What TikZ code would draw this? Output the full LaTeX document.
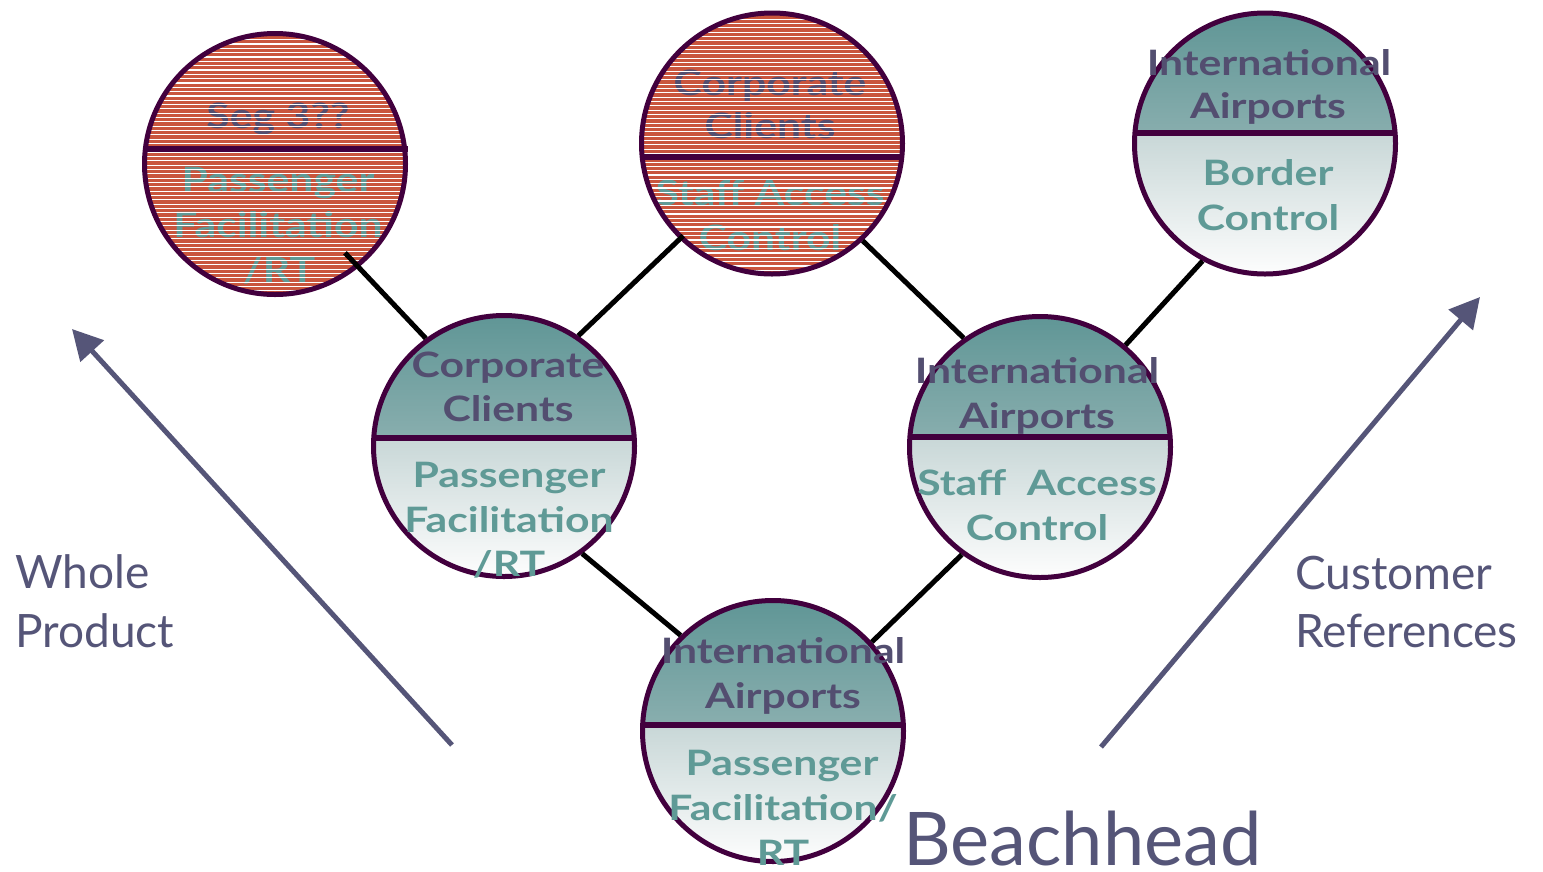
\documentclass[tikz,border=0pt]{standalone}
\usepackage{fontspec}
\setmainfont{Lato}
\usetikzlibrary{calc,arrows.meta}

\definecolor{rimc}{RGB}{66,0,62}
\definecolor{uptext}{RGB}{83,78,112}
\definecolor{lowtext}{RGB}{95,154,150}
\definecolor{slate}{RGB}{85,85,120}
\definecolor{brick}{RGB}{201,85,61}
\definecolor{tealtop}{RGB}{96,150,150}
\definecolor{tealmid}{RGB}{182,201,201}
\definecolor{tealbot}{RGB}{200,215,215}
\definecolor{tealend}{RGB}{253,253,253}

% circle labels are set a little wider than the face draws them
\newcommand\widelab[1]{\scalebox{1.22}[1]{#1}}

\tikzset{
  ball/.style={circle, minimum size=261pt, inner sep=0pt, outer sep=2.5pt},
  rimline/.style={draw=rimc, line width=5pt},
  divider/.style={draw=rimc, line width=6pt},
  tealball/.style={ball, rimline, path picture={
      \fill[top color=tealtop, bottom color=tealmid]
        (path picture bounding box.north west) rectangle ($(path picture bounding box.east)+(0,#1)$);
      \fill[top color=tealbot, bottom color=tealend]
        ($(path picture bounding box.west)+(0,#1)$) rectangle (path picture bounding box.south east);
      \draw[divider] ($(path picture bounding box.west)+(0,#1)$) -- ($(path picture bounding box.east)+(0,#1)$);
    }},
  redball/.style={ball, fill=brick},
  stripe/.style={draw=white, line width=1.1pt},
  uplab/.style={font=\bfseries\fontsize{35}{42}\selectfont, text=uptext, anchor=base, inner sep=0pt},
  lowlab/.style={font=\bfseries\fontsize{35}{42}\selectfont, text=lowtext, anchor=base, inner sep=0pt},
  link/.style={draw=black, line width=5pt},
  bigarrow/.style={draw=slate, line width=5pt, -{Triangle[length=30pt,width=31pt]}},
  sidetext/.style={font=\fontsize{46}{58}\selectfont, text=slate, anchor=base west, inner sep=0pt},
}

\begin{document}
\begin{tikzpicture}[x=1pt, y=-1pt]
\useasboundingbox (0,0) rectangle (1543,871);
\fill[white] (0,0) rectangle (1543,871);

% ---- striped segment: Seg 3?? ----
\node[redball] (c1) at (275,164) {};
\node[uplab] (c1u1) at (278,128) {\widelab{Seg 3??}};
\node[lowlab] (c1l1) at (278,192) {\widelab{Passenger}};
\node[lowlab] (c1l2) at (278,237) {\widelab{Facilitation}};
\node[lowlab] (c1l3) at (279,282) {\widelab{/RT}};
\begin{scope}
  \clip (c1.center) circle (130.5);
  \foreach \k in {0,...,62}
    \draw[stripe] ($(c1.center)+(-135,{-133+\k*4.33})$) -- ++(270,0);
\end{scope}
\draw[rimline] (c1.center) circle (130.5);
\draw[divider] ($(c1.center)+(-129,-15)$) -- ($(c1.center)+(133,-15)$);

% ---- striped segment: Corporate Clients / Staff Access Control ----
\node[redball] (c2) at (772,143.5) {};
\node[uplab] (c2u1) at (770,95) {\widelab{Corporate}};
\node[uplab] (c2u2) at (770,138) {\widelab{Clients}};
\node[lowlab] (c2l1) at (770,205) {\widelab{Staff Access}};
\node[lowlab] (c2l2) at (770,250) {\widelab{Control}};
\begin{scope}
  \clip (c2.center) circle (130.5);
  \foreach \k in {0,...,62}
    \draw[stripe] ($(c2.center)+(-135,{-133+\k*4.33})$) -- ++(270,0);
\end{scope}
\draw[rimline] (c2.center) circle (130.5);
\draw[divider] ($(c2.center)+(-130,13.5)$) -- ($(c2.center)+(130,13.5)$);

% ---- shaded segments ----
\node[tealball=-10.5] (c3) at (1265,143.5) {};
\node[uplab] (c3u1) at (1269,75) {\widelab{International}};
\node[uplab] (c3u2) at (1268,118) {\widelab{Airports}};
\node[lowlab] (c3l1) at (1268,185) {\widelab{Border}};
\node[lowlab] (c3l2) at (1268,230) {\widelab{Control}};

\node[tealball=-8] (c4) at (504,446) {};
\node[uplab] (c4u1) at (508,377) {\widelab{Corporate}};
\node[uplab] (c4u2) at (508,421) {\widelab{Clients}};
\node[lowlab] (c4l1) at (509,487) {\widelab{Passenger}};
\node[lowlab] (c4l2) at (509,532) {\widelab{Facilitation}};
\node[lowlab] (c4l3) at (509,576) {\widelab{/RT}};

\node[tealball=-10] (c5) at (1040,447) {};
\node[uplab] (c5u1) at (1037,383) {\widelab{International}};
\node[uplab] (c5u2) at (1037,428) {\widelab{Airports}};
\node[lowlab] (c5l1) at (1037,495) {\widelab{Staff\ \ Access}};
\node[lowlab] (c5l2) at (1037,540) {\widelab{Control}};

\node[tealball=-6] (c6) at (773,731) {};
\node[uplab] (c6u1) at (783,663) {\widelab{International}};
\node[uplab] (c6u2) at (783,708) {\widelab{Airports}};
\node[lowlab] (c6l1) at (782,775) {\widelab{Passenger}};
\node[lowlab] (c6l2) at (783,820) {\widelab{Facilitation/}};
\node[lowlab] (c6l3) at (783,865) {\widelab{RT}};

% ---- connectors ----
\draw[link, shorten <=-20pt] (c1.-51) -- (c4.126);
\draw[link, shorten >=-5pt] (c4.56) -- (c2.-134);
\draw[link] (c2.-47) -- (c5.125);
\draw[link] (c5.50) -- (c3.-118);
\draw[link] (c4.-54) -- (c6.134);
\draw[link] (c5.-126) -- (c6.42);

% ---- direction arrows ----
\coordinate (wtail) at (452,745);
\coordinate (whead) at (72,329);
\coordinate (ctail) at (1101,747);
\coordinate (chead) at (1480,297);
\draw[bigarrow] (wtail) -- (whead);
\draw[bigarrow] (ctail) -- (chead);

% ---- captions ----
\node[sidetext] (whole) at (15,588) {Whole};
\node[sidetext] (product) at (15,647) {Product};
\node[sidetext] (customer) at (1295,589) {Customer};
\node[sidetext] (references) at (1295,647) {References};
\node[sidetext, font=\fontsize{74}{80}\selectfont] (beach) at (903,865) {Beachhead};
\end{tikzpicture}
\end{document}
